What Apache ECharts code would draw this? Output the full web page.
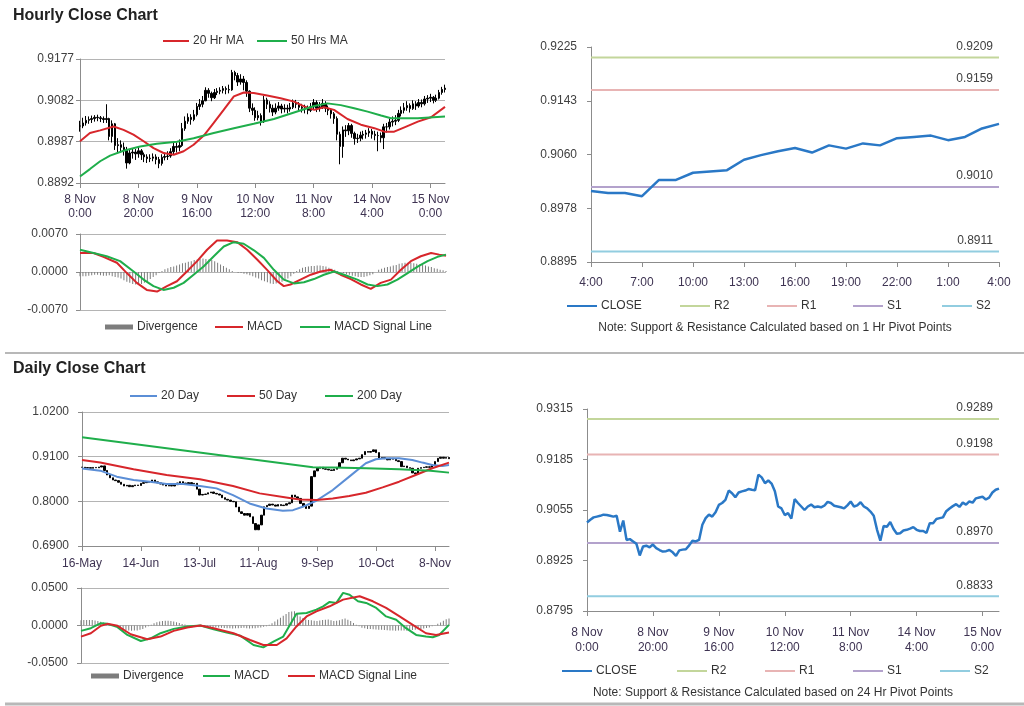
<!DOCTYPE html>
<html><head><meta charset="utf-8">
<script src="https://cdn.jsdelivr.net/npm/echarts@6/dist/echarts.min.js"></script>
<style>html,body{margin:0;padding:0;background:#fff}#c{width:1024px;height:706px}</style>
</head><body><div id="c"></div>
<script>
const FONT = '"Liberation Sans", Arial, sans-serif';

// ---------- DATA ----------
// Hourly bars, 8 Nov 0:00 .. 15 Nov 5:00 (weekend skipped)
const hourDays = ['8 Nov','9 Nov','10 Nov','11 Nov','14 Nov','15 Nov'];
const hourlyClose = [
 0.9023,0.9030,0.9036,0.9038,0.9040,0.9043,0.9042,0.9040,0.9038,0.9040,
 0.8999,0.9028,0.8978,0.8980,0.8974,0.8968,0.8938,0.8961,0.8963,0.8959,
 0.8966,0.8957,0.8952,0.8948,0.8949,0.8952,0.8946,0.8937,0.8951,0.8953,
 0.8954,0.8964,0.8976,0.8974,0.8978,0.9017,0.9034,0.9043,0.9038,0.9049,
 0.9068,0.9073,0.9081,0.9105,0.9098,0.9088,0.9100,0.9103,0.9105,0.9109,
 0.9107,0.9106,0.9146,0.9139,0.9124,0.9131,0.9123,0.9103,0.9064,0.9059,
 0.9042,0.9047,0.9033,0.9083,0.9073,0.9064,0.9055,0.9064,0.9069,0.9062,
 0.9064,0.9062,0.9066,0.9076,0.9073,0.9066,0.9064,0.9062,0.9059,0.9067,
 0.9077,0.9064,0.9067,0.9075,0.9064,0.9059,0.9051,0.9040,0.9004,0.8976,
 0.9014,0.9012,0.9024,0.9006,0.8994,0.8995,0.9002,0.9004,0.9007,0.9011,
 0.9004,0.9001,0.9001,0.8996,0.9021,0.9021,0.9032,0.9034,0.9036,0.9052,
 0.9059,0.9065,0.9070,0.9063,0.9074,0.9069,0.9077,0.9074,0.9085,0.9087,
 0.9089,0.9082,0.9087,0.9100,0.9107,0.9110];
const hourlyHigh = [
 0.9035,0.9042,0.9046,0.9045,0.9047,0.9048,0.9049,0.9046,0.9045,0.9073,
 0.9042,0.9036,0.9030,0.8995,0.8990,0.8985,0.8975,0.8970,0.8972,0.8970,
 0.8975,0.8970,0.8962,0.8958,0.8958,0.8960,0.8958,0.8952,0.8958,0.8962,
 0.8965,0.8972,0.8985,0.8985,0.8992,0.9030,0.9045,0.9052,0.9050,0.9060,
 0.9076,0.9085,0.9092,0.9112,0.9110,0.9102,0.9108,0.9110,0.9112,0.9115,
 0.9114,0.9118,0.9152,0.9150,0.9145,0.9142,0.9138,0.9128,0.9105,0.9075,
 0.9066,0.9058,0.9052,0.9092,0.9088,0.9080,0.9072,0.9075,0.9078,0.9074,
 0.9073,0.9072,0.9076,0.9084,0.9083,0.9078,0.9074,0.9072,0.9070,0.9076,
 0.9085,0.9082,0.9078,0.9085,0.9080,0.9070,0.9064,0.9055,0.9045,0.9010,
 0.9022,0.9025,0.9030,0.9028,0.9010,0.9005,0.9010,0.9012,0.9014,0.9018,
 0.9016,0.9012,0.9010,0.9008,0.9028,0.9030,0.9040,0.9045,0.9048,0.9060,
 0.9068,0.9076,0.9080,0.9075,0.9082,0.9080,0.9085,0.9084,0.9092,0.9094,
 0.9097,0.9092,0.9095,0.9106,0.9113,0.9118];
const hourlyLow = [
 0.9010,0.9018,0.9024,0.9028,0.9030,0.9033,0.9034,0.9032,0.9030,0.9030,
 0.8990,0.8985,0.8968,0.8960,0.8962,0.8955,0.8925,0.8935,0.8948,0.8945,
 0.8950,0.8945,0.8940,0.8938,0.8940,0.8942,0.8935,0.8926,0.8932,0.8944,
 0.8945,0.8950,0.8958,0.8962,0.8965,0.8975,0.9012,0.9028,0.9026,0.9034,
 0.9045,0.9060,0.9066,0.9080,0.9088,0.9080,0.9085,0.9094,0.9096,0.9098,
 0.9096,0.9098,0.9104,0.9128,0.9115,0.9118,0.9105,0.9090,0.9055,0.9048,
 0.9035,0.9036,0.9024,0.9030,0.9062,0.9054,0.9046,0.9050,0.9058,0.9052,
 0.9054,0.9052,0.9056,0.9062,0.9064,0.9056,0.9054,0.9052,0.9050,0.9055,
 0.9062,0.9055,0.9056,0.9062,0.9055,0.9048,0.9040,0.9028,0.8990,0.8935,
 0.8950,0.8998,0.9002,0.8996,0.8980,0.8984,0.8988,0.8992,0.8994,0.8998,
 0.8994,0.8990,0.8965,0.8985,0.8970,0.9008,0.9015,0.9022,0.9025,0.9032,
 0.9045,0.9052,0.9058,0.9054,0.9060,0.9060,0.9065,0.9066,0.9070,0.9076,
 0.9078,0.9075,0.9078,0.9084,0.9095,0.9100];
const hourlyMA20 = [[0,0.8988],[3.4,0.9007],[6.9,0.9013],[11.5,0.9022],[14.9,0.9014],[18.3,0.9003],[21.8,0.8988],[25.2,0.8972],[28.6,0.8961],[32.1,0.8957],[35.5,0.8965],[38.9,0.8980],[42.4,0.9001],[45.8,0.9030],[49.2,0.9060],[52.7,0.9091],[56.1,0.9100],[59.5,0.9099],[64.1,0.9093],[68.7,0.9087],[73.3,0.9079],[76.7,0.9068],[80.2,0.9060],[83.6,0.9066],[87,0.9060],[91.6,0.9039],[96.2,0.9026],[100.8,0.9018],[104.2,0.9010],[107.6,0.9010],[111.1,0.9020],[115.7,0.9033],[120.2,0.9043],[125,0.9067]];
const hourlyMA50 = [[0,0.8907],[3.4,0.8924],[6.9,0.8942],[10.3,0.8955],[14.9,0.8966],[20.6,0.8976],[26.3,0.8982],[33.2,0.8987],[38.9,0.8995],[45.8,0.9007],[52.7,0.9018],[59.5,0.9028],[66.4,0.9039],[73.3,0.9054],[80.2,0.9069],[84.7,0.9075],[89.3,0.9071],[93.9,0.9064],[98.5,0.9056],[103.1,0.9047],[106.5,0.9041],[115.7,0.9041],[125,0.9045]];
const hourlyMACD = [[0,0.0035],[4.6,0.0035],[8,0.0028],[12.6,0.0017],[16,-0.0002],[19.4,-0.0020],[22.8,-0.0033],[26.3,-0.0036],[29.7,-0.0026],[33.1,-0.0017],[36.5,0.0001],[40,0.0020],[43.4,0.0041],[46.8,0.0058],[50.2,0.0058],[53.7,0.0055],[57.1,0.0041],[60.5,0.0023],[63.9,0.0004],[67.4,-0.0017],[69.6,-0.0026],[71.9,-0.0023],[75.3,-0.0014],[78.8,-0.0005],[82.2,0.0001],[85.6,0.0004],[89,-0.0005],[92.5,-0.0013],[95.9,-0.0023],[99.3,-0.0031],[102.7,-0.0020],[106.2,-0.0014],[109.6,0.0004],[113,0.0020],[116.4,0.0029],[119.9,0.0035],[122.7,0.0032],[125,0.0030]];
const hourlySignal = [[0,0.0041],[4.6,0.0035],[9.1,0.0029],[13.7,0.0020],[18.3,0.0001],[21.7,-0.0014],[25.1,-0.0026],[28.5,-0.0033],[32,-0.0029],[35.4,-0.0020],[38.8,-0.0005],[42.2,0.0010],[45.7,0.0029],[49.1,0.0047],[52.5,0.0055],[55.9,0.0052],[59.4,0.0040],[62.8,0.0026],[66.2,0.0004],[69.6,-0.0014],[73.1,-0.0021],[76.5,-0.0019],[79.9,-0.0013],[83.3,-0.0005],[86.8,0.0001],[90.2,-0.0005],[94.7,-0.0014],[98.2,-0.0023],[101.6,-0.0026],[105,-0.0023],[108.4,-0.0014],[111.9,-0.0002],[115.3,0.0010],[118.7,0.0020],[122.1,0.0028],[125,0.0032]];
const hourlyDivergence = [
 -0.0008,-0.0008,-0.0008,-0.0007,-0.0006,-0.0005,-0.0005,-0.0006,-0.0007,-0.0007,
 -0.0006,-0.0008,-0.0009,-0.0010,-0.0012,-0.0015,-0.0018,-0.0020,-0.0022,-0.0023,
 -0.0024,-0.0022,-0.0020,-0.0017,-0.0013,-0.0009,-0.0006,-0.0002,0.0002,0.0005,
 0.0007,0.0009,0.0010,0.0012,0.0014,0.0016,0.0017,0.0019,0.0020,0.0022,
 0.0023,0.0024,0.0025,0.0024,0.0023,0.0022,0.0020,0.0017,0.0014,0.0011,
 0.0008,0.0005,0.0002,0.0000,-0.0002,-0.0002,-0.0003,-0.0004,-0.0006,-0.0008,
 -0.0010,-0.0012,-0.0015,-0.0017,-0.0019,-0.0021,-0.0022,-0.0021,-0.0020,-0.0018,
 -0.0016,-0.0012,-0.0008,-0.0003,0.0002,0.0005,0.0008,0.0009,0.0010,0.0011,
 0.0011,0.0012,0.0012,0.0011,0.0010,0.0008,0.0006,0.0004,0.0002,0.0000,
 -0.0002,-0.0004,-0.0005,-0.0007,-0.0008,-0.0009,-0.0009,-0.0009,-0.0008,-0.0006,
 -0.0004,0.0000,0.0004,0.0006,0.0008,0.0009,0.0010,0.0012,0.0013,0.0015,
 0.0016,0.0017,0.0017,0.0017,0.0016,0.0015,0.0014,0.0013,0.0012,0.0010,
 0.0009,0.0007,0.0006,0.0004,0.0003,0.0002];

// Daily closes 16 May .. 15 Nov (weekdays)
const dailyClose = [
 0.8839,0.8822,0.8830,0.8814,0.8835,0.8826,0.8845,0.8872,0.8760,0.8649,
 0.8580,0.8525,0.8509,0.8470,0.8420,0.8377,0.8395,0.8361,0.8385,0.8402,
 0.8390,0.8443,0.8460,0.8484,0.8470,0.8525,0.8480,0.8455,0.8426,0.8400,
 0.8377,0.8392,0.8377,0.8410,0.8450,0.8484,0.8450,0.8426,0.8460,0.8430,
 0.8443,0.8300,0.8155,0.8170,0.8179,0.8210,0.8230,0.8196,0.8180,0.8155,
 0.8090,0.8050,0.8031,0.8000,0.7989,0.7860,0.7742,0.7700,0.7659,0.7700,
 0.7620,0.7453,0.7300,0.7420,0.7659,0.7865,0.7900,0.7931,0.7910,0.7882,
 0.7920,0.7895,0.7906,0.7940,0.7964,0.8154,0.8110,0.8072,0.7948,0.7880,
 0.7824,0.7882,0.8608,0.8750,0.8814,0.8839,0.8800,0.8790,0.8773,0.8760,
 0.8790,0.8839,0.8950,0.9062,0.9040,0.9020,0.9000,0.9020,0.9045,0.9062,
 0.9150,0.9227,0.9210,0.9227,0.9268,0.9200,0.9062,0.9080,0.9050,0.9020,
 0.9060,0.9037,0.9000,0.8979,0.8855,0.8870,0.8830,0.8814,0.8700,0.8674,
 0.8814,0.8830,0.8839,0.8850,0.8839,0.8900,0.8979,0.9060,0.9086,0.9062,
 0.9080,0.9050];
const dailyMA20 = [[0,0.8806],[6.5,0.8756],[12.4,0.8608],[18.4,0.8525],[24.3,0.8484],[30.2,0.8426],[36.1,0.8426],[42.1,0.8377],[48,0.8319],[53.9,0.8154],[59.8,0.7948],[65.8,0.7824],[71.7,0.7766],[75.3,0.7783],[78.8,0.7865],[83.6,0.8014],[89.5,0.8278],[95.4,0.8608],[101.3,0.8938],[104.9,0.9037],[108.4,0.9061],[113.2,0.9061],[117.9,0.9020],[121.5,0.8954],[125,0.8897],[128.6,0.8872],[131,0.8897]];
const dailyMA50 = [[0,0.9020],[6.5,0.8954],[18.4,0.8789],[30.2,0.8649],[42.1,0.8542],[53.9,0.8377],[63.4,0.8196],[72.9,0.8096],[77.6,0.8047],[83.6,0.8030],[89.5,0.8072],[95.4,0.8129],[101.3,0.8212],[107.3,0.8344],[113.2,0.8484],[119.1,0.8649],[125,0.8814],[131,0.8954]];
const dailyMA200 = [[0,0.9581],[41.2,0.9210],[82.4,0.8839],[89.5,0.8831],[101.4,0.8814],[113.2,0.8789],[124.4,0.8756],[131,0.8707]];
const dailyMACD = [[0,-0.0072],[3.5,-0.0036],[7.1,0.0031],[9.4,0.0022],[13,-0.0022],[16.5,-0.0126],[21.3,-0.0207],[24.8,-0.0171],[28.3,-0.0103],[33,-0.0045],[37.8,-0.0013],[42.5,0],[47.2,-0.0049],[51.9,-0.0094],[56.7,-0.0135],[61.4,-0.0260],[64.9,-0.0292],[68.5,-0.0216],[72,-0.0148],[74.4,0.0009],[76.7,0.0157],[80.3,0.0166],[83.8,0.0211],[86.2,0.0256],[88.5,0.0314],[90.9,0.0301],[93.3,0.0435],[95.6,0.0409],[98.6,0.0323],[101.5,0.0301],[105.1,0.0234],[108.6,0.0121],[112.2,0.0076],[115.7,-0.0036],[119.3,-0.0126],[122.8,-0.0148],[125.2,-0.0157],[127.5,-0.0126],[131,0.0009]];
const dailySignal = [[0,-0.0148],[3.5,-0.0103],[7.1,-0.0004],[9.4,0.0022],[13,-0.0004],[17.7,-0.0117],[23.6,-0.0184],[28.3,-0.0148],[33,-0.0072],[37.8,-0.0027],[42.5,0],[47.2,-0.0036],[54.3,-0.0103],[60.2,-0.0193],[64.9,-0.0260],[69.7,-0.0260],[73.2,-0.0171],[76.7,-0.0013],[80.3,0.0121],[83.8,0.0188],[88.5,0.0256],[93.3,0.0345],[99.2,0.0390],[103.9,0.0323],[108.6,0.0234],[113.4,0.0121],[118.1,0.0009],[122.8,-0.0103],[126.4,-0.0126],[131,-0.0094]];
const dailyDivergence = [
 0.0070,0.0072,0.0075,0.0074,0.0072,0.0066,0.0060,0.0050,0.0040,0.0030,
 0.0020,0.0008,-0.0005,-0.0020,-0.0035,-0.0048,-0.0060,-0.0066,-0.0070,-0.0068,
 -0.0065,-0.0055,-0.0045,-0.0028,-0.0010,0.0010,0.0030,0.0043,0.0055,0.0060,
 0.0065,0.0063,0.0060,0.0052,0.0045,0.0032,0.0020,0.0012,0.0005,-0.0003,
 -0.0010,-0.0012,-0.0015,-0.0018,-0.0020,-0.0025,-0.0030,-0.0028,-0.0025,-0.0028,
 -0.0030,-0.0033,-0.0035,-0.0038,-0.0040,-0.0038,-0.0035,-0.0032,-0.0030,-0.0035,
 -0.0040,-0.0038,-0.0035,-0.0030,-0.0025,-0.0018,-0.0010,0.0010,0.0030,0.0055,
 0.0080,0.0105,0.0130,0.0155,0.0180,0.0188,0.0190,0.0155,0.0120,0.0100,
 0.0080,0.0075,0.0070,0.0065,0.0060,0.0068,0.0075,0.0078,0.0080,0.0070,
 0.0060,0.0065,0.0070,0.0085,0.0095,0.0078,0.0060,0.0035,0.0010,-0.0010,
 -0.0030,-0.0038,-0.0045,-0.0048,-0.0050,-0.0052,-0.0055,-0.0058,-0.0060,-0.0062,
 -0.0065,-0.0068,-0.0070,-0.0068,-0.0065,-0.0068,-0.0070,-0.0065,-0.0060,-0.0055,
 -0.0050,-0.0045,-0.0040,-0.0032,-0.0025,-0.0010,0.0005,0.0022,0.0040,0.0062,
 0.0085,0.0095];

const pivotNames = ['R2','R1','S1','S2'];
const hourlyPivots = [0.9209, 0.9159, 0.9010, 0.8911];
const dailyPivots = [0.9289, 0.9198, 0.8970, 0.8833];

// tick labels
const hourlyPriceTicks = ['0.8892','0.8987','0.9082','0.9177'];
const hourlyMacdTicks = ['-0.0070','0.0000','0.0070'];
const hourlyPivotTicks = ['0.8895','0.8978','0.9060','0.9143','0.9225'];
const dailyPriceTicks = ['0.6900','0.8000','0.9100','1.0200'];
const dailyMacdTicks = ['-0.0500','0.0000','0.0500'];
const dailyPivotTicks = ['0.8795','0.8925','0.9055','0.9185','0.9315'];
const pivotWindowStart = 100; // 14 Nov 4:00
const pivotWindowLen = 25;

// ---------- BUILD ----------
const hourlyCats = [];
hourDays.forEach(d => { for (let h = 0; h < 24; h++) hourlyCats.push(d + '\n' + h + ':00'); });
hourlyCats.length = hourlyClose.length;
const pivotCats = hourlyCats.slice(pivotWindowStart, pivotWindowStart + pivotWindowLen).map(s => s.split('\n')[1]);
const pivotClose = hourlyClose.slice(pivotWindowStart, pivotWindowStart + pivotWindowLen);

const MON = ['Jan','Feb','Mar','Apr','May','Jun','Jul','Aug','Sep','Oct','Nov','Dec'];
const dailyCats = [];
{ const d = new Date(Date.UTC(2011, 4, 16));
  while (dailyCats.length < dailyClose.length) {
    const wd = d.getUTCDay();
    if (wd !== 0 && wd !== 6) dailyCats.push(d.getUTCDate() + '-' + MON[d.getUTCMonth()]);
    d.setUTCDate(d.getUTCDate() + 1);
  } }

function candles(closes, highs, lows) {
  return closes.map((c, i) => {
    const o = i ? closes[i - 1] : c;
    const lo = lows ? lows[i] : Math.min(o, c), hi = highs ? highs[i] : Math.max(o, c);
    return [o, c, Math.min(lo, o, c), Math.max(hi, o, c)];
  });
}
const indexed = arr => arr.map((v, i) => [i, v]);
const C_RED = '#d7262b', C_GREEN = '#1fae4b', C_BLUE20 = '#5b8ed6', C_CLOSE = '#2a78c6';
const pivotColors = ['#c3d69b', '#e8b4b4', '#b3a2cc', '#92cde0'];
const AX = '#8c8c8c', GRID = '#b4b4b4', TXT = '#404040', XTXT = '#3e3352';

function yAx(grid, ticks, split, margin) {
  const min = +ticks[0], max = +ticks[ticks.length - 1], step = (max - min) / (ticks.length - 1);
  return {
    type: 'value', gridIndex: grid, min, max, interval: step,
    axisLine: {show: true, lineStyle: {color: AX}},
    axisTick: {show: true, length: 4, lineStyle: {color: AX}},
    splitLine: {show: split, lineStyle: {color: GRID, width: 1}},
    axisLabel: {margin, color: TXT, fontFamily: FONT, fontSize: 12,
      formatter: v => ticks[Math.round((v - min) / step)] ?? ''}
  };
}
function catAx(grid, data, interval, margin, lh) {
  return {
    type: 'category', gridIndex: grid, data, boundaryGap: false,
    axisLine: {show: true, lineStyle: {color: AX}},
    axisTick: {show: true, interval, length: 5, lineStyle: {color: AX}},
    splitLine: {show: false},
    axisLabel: {interval, margin, color: XTXT, fontFamily: FONT, fontSize: 12, lineHeight: lh, align: 'center'}
  };
}
function valAx(grid, max) {
  return {type: 'value', gridIndex: grid, min: 0, max, show: false, splitLine: {show: false}};
}
function line(name, x, y, data, color, width) {
  return {type: 'line', name, xAxisIndex: x, yAxisIndex: y, data, color, showSymbol: false,
    lineStyle: {color, width}, silent: true, z: 3};
}
function pivotSeries(suffix, x, y, values, n) {
  return pivotNames.map((p, k) => ({
    type: 'line', name: p + suffix, xAxisIndex: x, yAxisIndex: y, color: pivotColors[k],
    lineStyle: {color: pivotColors[k], width: 2}, symbol: 'circle', symbolSize: 0.1, showSymbol: true, silent: true, z: 2,
    data: [[0, values[k]], {value: [n - 1, values[k]], label: {show: true, position: 'top', align: 'right',
      offset: [-6, -1], distance: 4, color: TXT, fontFamily: FONT, fontSize: 12, formatter: values[k].toFixed(4)}}]
  }));
}
const candleStyle = {color: '#000', color0: '#000', borderColor: '#000', borderColor0: '#000', borderWidth: 1};

function lg(name, left, cy, w, h, icon) {
  return {data: [name], left, top: cy - 7, padding: 0, itemWidth: w, itemHeight: h || 2, icon: icon || 'rect',
    itemGap: 0, selectedMode: false, textStyle: {color: '#333', fontFamily: FONT, fontSize: 12, padding: [0,0,0,-1]},
    formatter: n => n.replace('_d', '')};
}
function divBars(name, x, y, data) {
  return {type: 'bar', name, xAxisIndex: x, yAxisIndex: y, data: indexed(data), barWidth: 1,
    color: '#555', itemStyle: {color: '#7d7d7d'}, silent: true, z: 1};
}

const option = {
  animation: false,
  backgroundColor: '#fff',
  textStyle: {fontFamily: FONT},
  grid: [
    {left: 80, top: 59, width: 365, height: 124},
    {left: 80, top: 234, width: 366, height: 76},
    {left: 591, top: 47, width: 408, height: 215},
    {left: 82, top: 412, width: 367, height: 134},
    {left: 81, top: 588, width: 368, height: 75},
    {left: 587, top: 409, width: 412, height: 202}
  ],
  xAxis: [
    catAx(0, hourlyCats, 19, 10, 14),
    valAx(0, hourlyClose.length - 1),
    valAx(1, hourlyClose.length - 1),
    catAx(2, pivotCats, 2, 14, 14),
    catAx(3, dailyCats, 20, 11, 14),
    valAx(3, dailyClose.length - 1),
    valAx(4, dailyClose.length - 1),
    catAx(5, hourlyCats, 19, 14, 15)
  ],
  yAxis: [
    yAx(0, hourlyPriceTicks, true, 6),
    yAx(1, hourlyMacdTicks, true, 12),
    yAx(2, hourlyPivotTicks, false, 14),
    yAx(3, dailyPriceTicks, true, 13),
    yAx(4, dailyMacdTicks, true, 13),
    yAx(5, dailyPivotTicks, false, 14)
  ],
  legend: [
    lg('20 Hr MA', 163, 42, 26), lg('50 Hrs MA', 257, 42, 30),
    lg('Divergence', 105, 328, 28, 5), lg('MACD', 215, 328, 28), lg('MACD Signal Line', 300, 328, 30),
    lg('CLOSE', 567, 307, 30), lg('R2', 680, 307, 30), lg('R1', 767, 307, 30), lg('S1', 853, 307, 30), lg('S2', 942, 307, 30),
    lg('20 Day', 130, 397, 27), lg('50 Day', 227, 397, 28), lg('200 Day', 325, 397, 28),
    lg('Divergence_d', 91, 677, 28, 5), lg('MACD_d', 203, 677, 27), lg('MACD Signal Line_d', 288, 677, 27),
    lg('CLOSE_d', 562, 672, 30), lg('R2_d', 677, 672, 30), lg('R1_d', 765, 672, 30), lg('S1_d', 853, 672, 30), lg('S2_d', 940, 672, 30)
  ],
  series: [
    {type: 'candlestick', name: 'hourlyPrice', xAxisIndex: 0, yAxisIndex: 0, data: candles(hourlyClose, hourlyHigh, hourlyLow), barWidth: 2, itemStyle: candleStyle, silent: true},
    line('20 Hr MA', 1, 0, hourlyMA20, C_RED, 2),
    line('50 Hrs MA', 1, 0, hourlyMA50, C_GREEN, 2),
    divBars('Divergence', 2, 1, hourlyDivergence),
    line('MACD', 2, 1, hourlyMACD, C_RED, 2),
    line('MACD Signal Line', 2, 1, hourlySignal, C_GREEN, 2),
    line('CLOSE', 3, 2, pivotClose, C_CLOSE, 2.5),
    ...pivotSeries('', 3, 2, hourlyPivots, pivotWindowLen),
    {type: 'candlestick', name: 'dailyPrice', xAxisIndex: 4, yAxisIndex: 3, data: candles(dailyClose), barWidth: 2, itemStyle: candleStyle, silent: true},
    line('20 Day', 5, 3, dailyMA20, C_BLUE20, 2),
    line('50 Day', 5, 3, dailyMA50, C_RED, 2),
    line('200 Day', 5, 3, dailyMA200, C_GREEN, 2),
    divBars('Divergence_d', 6, 4, dailyDivergence),
    line('MACD_d', 6, 4, dailyMACD, C_GREEN, 2),
    line('MACD Signal Line_d', 6, 4, dailySignal, C_RED, 2),
    line('CLOSE_d', 7, 5, hourlyClose, C_CLOSE, 2.5),
    ...pivotSeries('_d', 7, 5, dailyPivots, hourlyClose.length)
  ],
  graphic: [
    {type: 'text', left: 13, top: 8, style: {text: 'Hourly Close Chart', fill: '#222', font: 'bold 16px ' + FONT}},
    {type: 'text', left: 13, top: 361, style: {text: 'Daily Close Chart', fill: '#222', font: 'bold 16px ' + FONT}},
    {type: 'text', x: 775, y: 328, style: {text: 'Note: Support & Resistance Calculated based on 1 Hr Pivot Points', fill: '#333', font: '12px ' + FONT, align: 'center', verticalAlign: 'middle'}},
    {type: 'text', x: 773, y: 693, style: {text: 'Note: Support & Resistance Calculated based on 24 Hr Pivot Points', fill: '#333', font: '12px ' + FONT, align: 'center', verticalAlign: 'middle'}},
    {type: 'line', shape: {x1: 5, y1: 353, x2: 1024, y2: 353}, style: {stroke: '#b8b8b8', lineWidth: 2}},
    {type: 'line', shape: {x1: 5, y1: 704, x2: 1024, y2: 704}, style: {stroke: '#b8b8b8', lineWidth: 3}}
  ]
};
const chart = echarts.init(document.getElementById('c'));
chart.setOption(option);
</script></body></html>
